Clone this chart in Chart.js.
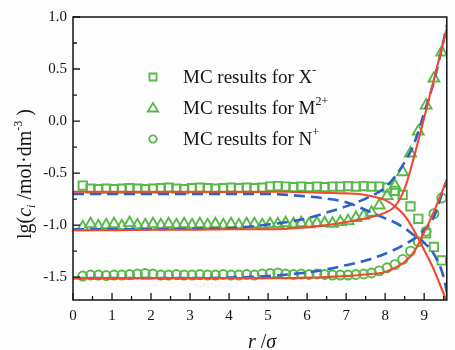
<!DOCTYPE html>
<html>
<head>
<meta charset="utf-8">
<script src="https://cdn.jsdelivr.net/npm/chart.js@4.4.1/dist/chart.umd.min.js"></script>
<style>
html,body{margin:0;padding:0;background:#fdfdfd;}
#wrap{position:relative;width:455px;height:350px;}
</style>
</head>
<body>
<div id="wrap"><canvas id="c" width="455" height="350"></canvas></div>
<script>
// ---- data ----
const xTicks = [0,1,2,3,4,5,6,7,8,9];
const yTicks = [-1.5,-1.0,-0.5,0.0,0.5,1.0];

// MC sample positions r/sigma
const rMC = [0.25,0.45,0.65,0.85,1.05,1.25,1.45,1.65,1.85,
  2.05,2.25,2.45,2.65,2.85,3.05,3.25,3.45,3.65,3.85,
  4.05,4.25,4.45,4.65,4.85,5.05,5.25,5.45,5.65,5.85,
  6.05,6.25,6.45,6.65,6.85,7.05,7.25,7.45,7.65,7.85,
  8.05,8.25,8.45,8.65,8.85,9.05,9.25,9.45];
const mcX = [-0.62,-0.65,-0.655,-0.65,-0.655,-0.65,-0.645,-0.65,-0.655,
  -0.65,-0.645,-0.64,-0.65,-0.655,-0.645,-0.64,-0.645,-0.65,-0.645,
  -0.64,-0.645,-0.64,-0.645,-0.64,-0.63,-0.625,-0.63,-0.635,-0.63,
  -0.635,-0.63,-0.635,-0.63,-0.63,-0.625,-0.63,-0.625,-0.63,-0.63,
  -0.64,-0.67,-0.71,-0.82,-0.94,-1.08,-1.21,-1.34];
const mcM = [-1.02,-0.99,-1.01,-1.0,-0.99,-1.01,-0.98,-1.0,-1.0,
  -0.99,-1.0,-0.99,-1.0,-0.99,-1.0,-0.99,-1.0,-0.99,-1.0,
  -0.99,-1.0,-0.99,-0.99,-1.0,-0.99,-0.99,-0.98,-0.99,-0.98,
  -0.99,-0.98,-0.98,-0.985,-0.97,-0.96,-0.93,-0.91,-0.88,-0.81,
  -0.72,-0.62,-0.49,-0.31,-0.10,0.15,0.41,0.66];
const mcN = [-1.49,-1.48,-1.48,-1.485,-1.48,-1.48,-1.475,-1.47,-1.465,
  -1.47,-1.48,-1.48,-1.475,-1.48,-1.48,-1.475,-1.48,-1.48,-1.475,
  -1.48,-1.48,-1.475,-1.48,-1.47,-1.465,-1.46,-1.47,-1.475,-1.47,
  -1.475,-1.47,-1.475,-1.48,-1.48,-1.48,-1.475,-1.47,-1.46,-1.44,
  -1.41,-1.38,-1.33,-1.25,-1.16,-1.06,-0.89,-0.74];

// theory curves positions
const rFit = [0,0.5,1,2,3,4,5,5.5,6,6.5,7,7.5,8,8.25,8.5,8.75,9,9.25,9.5,9.6];
// solid (red) curves
const solidX = [-0.68,-0.68,-0.68,-0.68,-0.68,-0.68,-0.68,-0.68,-0.685,-0.69,-0.695,-0.71,-0.76,-0.82,-0.91,-1.06,-1.24,-1.43,-1.66,-1.75];
const solidM = [-1.05,-1.05,-1.05,-1.045,-1.045,-1.04,-1.04,-1.035,-1.02,-1.0,-0.97,-0.935,-0.88,-0.82,-0.65,-0.33,0.03,0.40,0.77,0.92];
const solidN = [-1.51,-1.51,-1.51,-1.51,-1.51,-1.51,-1.51,-1.51,-1.505,-1.5,-1.49,-1.475,-1.45,-1.41,-1.355,-1.25,-1.07,-0.87,-0.64,-0.55];
// dashed (blue) curves
const dashX = [-0.70,-0.70,-0.70,-0.70,-0.70,-0.70,-0.70,-0.71,-0.725,-0.745,-0.78,-0.855,-0.935,-0.975,-1.03,-1.10,-1.17,-1.28,-1.50,-1.68];
const dashM = [-1.04,-1.04,-1.04,-1.04,-1.035,-1.03,-0.995,-0.97,-0.935,-0.88,-0.82,-0.745,-0.64,-0.535,-0.395,-0.21,0.08,0.38,0.78,0.95];
const dashN = [-1.51,-1.51,-1.51,-1.51,-1.51,-1.505,-1.49,-1.475,-1.455,-1.425,-1.385,-1.34,-1.275,-1.235,-1.185,-1.13,-1.05,-0.92,-0.65,-0.55];

const legendLabels = [
  {main:'MC results for X', sup:'-', style:'rect'},
  {main:'MC results for M', sup:'2+', style:'triangle'},
  {main:'MC results for N', sup:'+', style:'circle'}
];

// ---- styles ----
const GREEN = '#57b948';
const RED = '#f1492b';
const BLUE = '#2c62c8';
const INK = '#141414';
const SERIF = '"Liberation Serif", "Times New Roman", serif';

const pts = (xs, ys) => xs.map((x, i) => ({x: x, y: ys[i]}));

function mcSet(ys, style, radius) {
  return {type:'scatter', data: pts(rMC, ys), showLine:false, pointStyle: style,
    pointRadius: radius, pointHoverRadius: radius, pointBorderWidth: 1.9,
    pointBorderColor: GREEN, pointBackgroundColor: 'rgba(0,0,0,0)', order: 3};
}
function lineSet(ys, color, dashed) {
  return {type:'line', data: pts(rFit, ys), borderColor: color, borderWidth: dashed ? 2.6 : 2.1,
    borderDash: dashed ? [11,6] : [], pointRadius: 0, fill:false,
    cubicInterpolationMode:'monotone', order: dashed ? 2 : 1};
}

function drawRuns(ctx, runs, x, y, align) {
  let total = 0;
  runs.forEach(r => { ctx.font = r.font; total += ctx.measureText(r.t).width; });
  let cx = align === 'center' ? x - total / 2 : x;
  runs.forEach(r => {
    ctx.font = r.font;
    ctx.fillText(r.t, cx, y + (r.dy || 0));
    cx += ctx.measureText(r.t).width;
  });
}

const decor = {
  id: 'decor',
  afterDraw(chart) {
    const ctx = chart.ctx;
    const a = chart.chartArea;
    const xs = chart.scales.x, ys = chart.scales.y;
    ctx.save();
    ctx.strokeStyle = INK;
    ctx.lineWidth = 1.5;
    ctx.strokeRect(a.left, a.top, a.right - a.left, a.bottom - a.top);
    // inward ticks
    ctx.lineWidth = 1.3;
    ctx.beginPath();
    xTicks.forEach(v => {
      const px = xs.getPixelForValue(v);
      ctx.moveTo(px, a.bottom); ctx.lineTo(px, a.bottom - 7);
      const ph = xs.getPixelForValue(v + 0.5);
      if (ph < a.right - 1) { ctx.moveTo(ph, a.bottom); ctx.lineTo(ph, a.bottom - 4); }
    });
    yTicks.forEach(v => {
      const py = ys.getPixelForValue(v);
      ctx.moveTo(a.left, py); ctx.lineTo(a.left + 7, py);
      const pm = ys.getPixelForValue(v - 0.25);
      if (pm < a.bottom - 1) { ctx.moveTo(a.left, pm); ctx.lineTo(a.left + 4, pm); }
    });
    ctx.stroke();

    // legend
    ctx.fillStyle = INK;
    ctx.textBaseline = 'alphabetic';
    legendLabels.forEach((lab, i) => {
      const my = 77 + i * 31;
      const mx = 153;
      ctx.save();
      ctx.strokeStyle = GREEN; ctx.lineWidth = 1.8;
      ctx.beginPath();
      if (lab.style === 'rect') { ctx.rect(mx - 3.5, my - 3.5, 7, 7); }
      else if (lab.style === 'triangle') {
        ctx.moveTo(mx, my - 5); ctx.lineTo(mx + 5.2, my + 3.5); ctx.lineTo(mx - 5.2, my + 3.5); ctx.closePath();
      } else { ctx.arc(mx, my, 3.7, 0, Math.PI * 2); }
      ctx.stroke();
      ctx.restore();
      drawRuns(ctx, [
        {t: lab.main, font: '19px ' + SERIF},
        {t: lab.sup, font: '12px ' + SERIF, dy: -9}
      ], 183, my + 6, 'left');
    });

    // x title
    drawRuns(ctx, [
      {t:'r', font:'italic 20px ' + SERIF},
      {t:' /', font:'20px ' + SERIF},
      {t:'σ', font:'italic 20px ' + SERIF}
    ], 262, 348, 'center');

    // y title
    ctx.save();
    ctx.translate(31, 174);
    ctx.rotate(-Math.PI / 2);
    drawRuns(ctx, [
      {t:'lg(', font:'20px ' + SERIF},
      {t:'c', font:'italic 20px ' + SERIF},
      {t:'i', font:'italic 12px ' + SERIF, dy: 4},
      {t:' /mol·dm', font:'20px ' + SERIF},
      {t:'-3', font:'12px ' + SERIF, dy: -9},
      {t:' )', font:'20px ' + SERIF}
    ], 0, 0, 'center');
    ctx.restore();
    ctx.restore();
  }
};

new Chart(document.getElementById('c'), {
  data: {
    datasets: [
      lineSet(solidX, RED, false),
      lineSet(solidM, RED, false),
      lineSet(solidN, RED, false),
      lineSet(dashX, BLUE, true),
      lineSet(dashM, BLUE, true),
      lineSet(dashN, BLUE, true),
      mcSet(mcX, 'rect', 5.9),
      mcSet(mcM, 'triangle', 6.3),
      mcSet(mcN, 'circle', 4.5)
    ]
  },
  options: {
    responsive: false,
    animation: false,
    layout: {padding: {top: 17, right: 2, left: 0, bottom: 0}},
    plugins: {legend: {display: false}, tooltip: {enabled: false}},
    scales: {
      x: {
        type: 'linear', min: 0, max: 9.58,
        afterFit(s) { s.height = 50; },
        afterBuildTicks(s) { s.ticks = xTicks.map(v => ({value: v})); },
        grid: {display: false, drawTicks: false},
        border: {display: false},
        ticks: {font: {family: SERIF, size: 15}, color: INK, padding: 7, maxRotation: 0,
          callback: v => String(v)}
      },
      y: {
        type: 'linear', min: -1.72, max: 1.0,
        afterFit(s) { s.width = 73; },
        afterBuildTicks(s) { s.ticks = yTicks.map(v => ({value: v})); },
        grid: {display: false, drawTicks: false},
        border: {display: false},
        ticks: {font: {family: SERIF, size: 15}, color: INK, padding: 6,
          callback: v => Number(v).toFixed(1)}
      }
    }
  },
  plugins: [decor]
});
</script>
</body>
</html>
